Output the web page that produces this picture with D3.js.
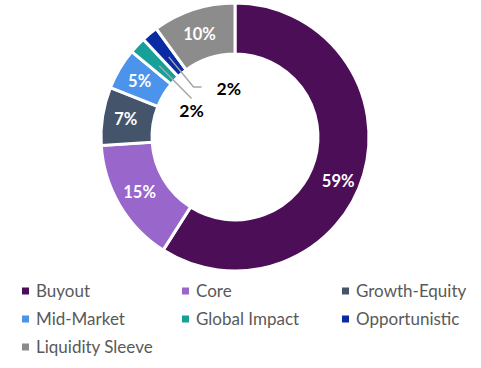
<!DOCTYPE html>
<html><head><meta charset="utf-8">
<script src="https://cdn.jsdelivr.net/npm/d3@7"></script>
<style>body{margin:0;background:#fff}svg{display:block}</style>
</head><body><svg id="c" width="481" height="368"></svg>
<script>
const categories = ["Buyout","Core","Growth-Equity","Mid-Market","Global Impact","Opportunistic","Liquidity Sleeve"];
const values = [59,15,7,5,2,2,10];
const labels = ["59%","15%","7%","5%","2%","2%","10%"];
const colors = ["#4B0E57","#9966CC","#44546A","#4C93EC","#17A09A","#0A2BA3","#8C8C8C"];
const outsideLabel = [false,false,false,false,true,true,false];

const svg = d3.select("#c");
const cx = 235, cy = 137, rOut = 134, rIn = 83;
const g = svg.append("g").attr("transform",`translate(${cx},${cy})`);
const pie = d3.pie().sort(null).value(d=>d);
const arcs = pie(values);
const arc = d3.arc().innerRadius(rIn).outerRadius(rOut);
const labelArc = d3.arc().innerRadius((rIn+rOut)/2).outerRadius((rIn+rOut)/2);
const leaderStart = d3.arc().innerRadius(104).outerRadius(104);
// extra nudge for the big slice label (placed lower in the reference)
const labelNudge = [[-1,14],[-2,0],[-2,-1],[-2,-1],[0,0],[0,0],[-2,0]];

g.selectAll("path.s").data(arcs).join("path").attr("class","s")
  .attr("d",arc).attr("fill",(d,i)=>colors[i])
  .attr("stroke","#fff").attr("stroke-width",3).attr("stroke-linejoin","miter");

const font = "Lato, 'Open Sans', sans-serif";
arcs.forEach((d,i)=>{
  if(outsideLabel[i]) return;
  const [x,y] = labelArc.centroid(d);
  g.append("text").attr("x",x+labelNudge[i][0]).attr("y",y+labelNudge[i][1]).attr("dy","0.36em")
    .attr("text-anchor","middle").attr("fill","#fff").attr("font-family",font)
    .attr("font-weight","bold").attr("font-size",16.5).text(labels[i]);
});

// outside (inner-hole) labels with leader lines
const leaderR = [null,null,null,null,[58,0],[65,8],null];
arcs.forEach((d,i)=>{
  if(!outsideLabel[i]) return;
  const [sx,sy] = leaderStart.centroid(d);
  const a = (d.startAngle+d.endAngle)/2 - (i===4?0.03:0);
  const r = leaderR[i][0];
  const ex = Math.sin(a)*r, ey = -Math.cos(a)*r;
  let pts = [[sx,sy],[ex,ey]];
  if(leaderR[i][1]){
    pts.push([ex+leaderR[i][1],ey]);
    g.append("text").attr("x",ex+leaderR[i][1]+15).attr("y",ey+2).attr("dy","0.36em")
      .attr("text-anchor","start").attr("fill","#000").attr("font-family",font)
      .attr("font-weight","bold").attr("font-size",17.5).text(labels[i]);
  } else {
    g.append("text").attr("x",ex).attr("y",ey+12).attr("dy","0.36em")
      .attr("text-anchor","middle").attr("fill","#000").attr("font-family",font)
      .attr("font-weight","bold").attr("font-size",17.5).text(labels[i]);
  }
  g.append("polyline").attr("points",pts.map(p=>p.join(",")).join(" "))
    .attr("fill","none").attr("stroke","#A6A6A6").attr("stroke-width",1.5);
});

// legend
const colX = [22,182,342], rowY = [291,319,347];
const lg = svg.append("g");
categories.forEach((c,i)=>{
  const x = colX[i%3], y = rowY[Math.floor(i/3)];
  lg.append("rect").attr("x",x).attr("y",y-3.5).attr("width",7).attr("height",7).attr("fill",colors[i]);
  lg.append("text").attr("x",x+14).attr("y",y).attr("dy","0.35em")
    .attr("fill","#595959").attr("font-family",font).attr("font-size",17).text(c);
});
</script></body></html>
